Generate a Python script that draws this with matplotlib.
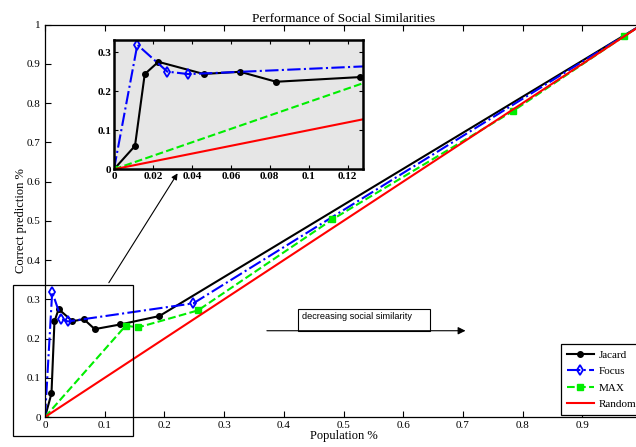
import matplotlib
matplotlib.use("Agg")
import matplotlib.pyplot as plt
from matplotlib.patches import Rectangle

plt.rcParams['font.family'] = ['Liberation Serif', 'DejaVu Serif']
plt.rcParams['xtick.direction'] = 'in'
plt.rcParams['ytick.direction'] = 'in'

# data
jacard_x = [0, 0.0108, 0.0158, 0.0228, 0.046, 0.0648, 0.0833, 0.1264, 0.1915, 1.0]
jacard_y = [0, 0.060, 0.2436, 0.275, 0.244, 0.2495, 0.224, 0.236, 0.2573, 1.0]
focus_x = [0, 0.012, 0.0274, 0.0382, 0.2484, 1.0]
focus_y = [0, 0.3187, 0.250, 0.2436, 0.2897, 1.0]
max_x = [0, 0.1351, 0.1563, 0.2563, 0.4813, 0.7845, 0.970, 1.0]
max_y = [0, 0.2327, 0.2285, 0.2718, 0.5036, 0.7804, 0.9707, 1.0]
random_x = [0, 1]
random_y = [0, 1]

main_ticks = [0, 0.1, 0.2, 0.3, 0.4, 0.5, 0.6, 0.7, 0.8, 0.9, 1]
main_labels = ['0', '0.1', '0.2', '0.3', '0.4', '0.5', '0.6', '0.7', '0.8', '0.9', '1']
inset_xticks = [0, 0.02, 0.04, 0.06, 0.08, 0.1, 0.12]
inset_xlabels = ['0', '0.02', '0.04', '0.06', '0.08', '0.1', '0.12']
inset_yticks = [0, 0.1, 0.2, 0.3]
inset_ylabels = ['0', '0.1', '0.2', '0.3']


def draw_series(ax, lw=1.5):
    ax.plot(jacard_x, jacard_y, color='black', ls='-', lw=lw, marker='o', ms=4,
            label='Jacard')
    ax.plot(focus_x, focus_y, color='blue', ls='-.', lw=lw, marker='d', ms=5,
            mfc='none', mew=1.3, label='Focus')
    ax.plot(max_x, max_y, color='#00ee00', ls='--', lw=lw, marker='s', ms=4,
            label='MAX')
    ax.plot(random_x, random_y, color='red', ls='-', lw=lw, label='Random')


fig = plt.figure(figsize=(6.36, 4.47), dpi=100)
ax = fig.add_axes([0.0708, 0.0671, 0.9386, 0.8777])
draw_series(ax)
ax.set_xlim(0, 1)
ax.set_ylim(0, 1)
ax.set_xticks(main_ticks)
ax.set_xticklabels(main_labels)
ax.set_yticks(main_ticks)
ax.set_yticklabels(main_labels)
ax.tick_params(labelsize=8, top=True, right=True, length=4, width=0.8, pad=3)
for s in ax.spines.values():
    s.set_linewidth(0.9)
ax.set_title('Performance of Social Similarities', fontsize=9.5, pad=2)
ax.set_xlabel('Population %', fontsize=9, labelpad=0)
ax.set_ylabel('Correct prediction %', fontsize=9, labelpad=0)

leg = ax.legend(loc='lower right', bbox_to_anchor=(1.0, 0.006), borderaxespad=0,
                fontsize=8, fancybox=False, edgecolor='black', framealpha=1,
                handlelength=2.5, handletextpad=0.4, labelspacing=0.6,
                borderpad=0.5)
leg.get_frame().set_linewidth(0.9)

# zoom box around the start of the curves
ax.add_patch(Rectangle((-0.054, -0.048), 0.202, 0.3835, fill=False,
                       edgecolor='black', lw=0.9, clip_on=False, zorder=5))
ax.annotate('', xy=(0.2245, 0.627), xytext=(0.1044, 0.3363),
            arrowprops=dict(arrowstyle='-|>', color='black', lw=0.8,
                            mutation_scale=9))

# decreasing similarity arrow + label box
ax.annotate('', xy=(0.709, 0.2199), xytext=(0.367, 0.2199),
            arrowprops=dict(arrowstyle='-|>', color='black', lw=0.8,
                            mutation_scale=11))
ax.add_patch(Rectangle((0.4233, 0.2199), 0.2217, 0.0551, fill=False,
                       edgecolor='black', lw=0.8, zorder=4))
ax.text(0.431, 0.2555, 'decreasing social similarity', fontsize=6.6,
        family=['Liberation Sans', 'DejaVu Sans'], va='center', ha='left')

# inset
ins = fig.add_axes([0.1792, 0.6213, 0.391, 0.2893])
ins.set_facecolor('#e6e6e6')
draw_series(ins)
ins.set_xlim(0, 0.1277)
ins.set_ylim(0, 0.331)
ins.set_xticks(inset_xticks)
ins.set_xticklabels(inset_xlabels)
ins.set_yticks(inset_yticks)
ins.set_yticklabels(inset_ylabels)
ins.tick_params(labelsize=8, top=True, right=True, length=3, width=0.8, pad=2)
for lab in ins.get_xticklabels() + ins.get_yticklabels():
    lab.set_fontweight('bold')
for s in ins.spines.values():
    s.set_linewidth(1.8)

fig.savefig('out.png', dpi=100)
